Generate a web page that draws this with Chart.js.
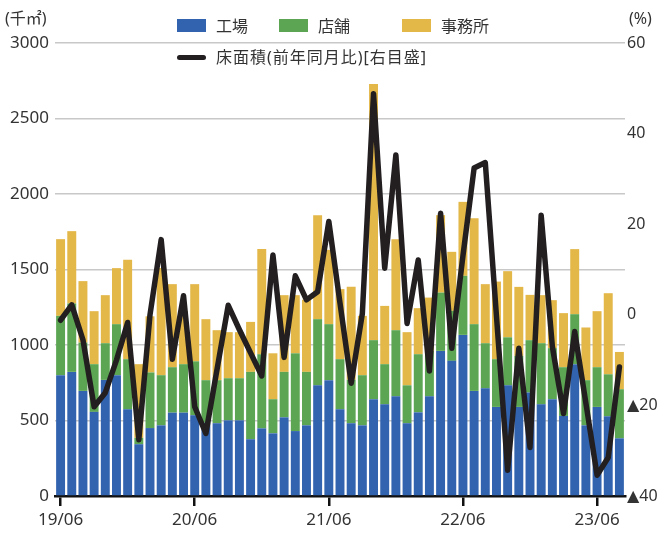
<!DOCTYPE html>
<html><head><meta charset="utf-8">
<script src="https://cdn.jsdelivr.net/npm/chart.js@4.4.1/dist/chart.umd.min.js"></script>
<style>
html,body{margin:0;padding:0;background:#fff;}
#wrap{position:relative;width:662px;height:533px;overflow:hidden;}
canvas{position:absolute;left:0;top:0;}
.t{position:absolute;font-family:"Noto Sans","Noto Sans CJK JP",sans-serif;color:#333;font-size:16px;line-height:16px;white-space:nowrap;}
.sw{position:absolute;}
</style></head>
<body><div id="wrap"><canvas id="c" width="662" height="533"></canvas></div>
<script>
// categories (month labels 19/06 ... 23/08)
const months = ['19/06','19/07','19/08','19/09','19/10','19/11','19/12','20/01','20/02','20/03','20/04','20/05',
'20/06','20/07','20/08','20/09','20/10','20/11','20/12','21/01','21/02','21/03','21/04','21/05',
'21/06','21/07','21/08','21/09','21/10','21/11','21/12','22/01','22/02','22/03','22/04','22/05',
'22/06','22/07','22/08','22/09','22/10','22/11','22/12','23/01','23/02','23/03','23/04','23/05',
'23/06','23/07','23/08'];
const seriesNames = ['工場','店舗','事務所'];
const lineName = '床面積(前年同月比)[右目盛]';
// 千㎡
const factory = [800,822,696,557,769,800,574,343,450,468,552,552,535,485,482,501,501,376,448,415,521,430,468,733,767,574,482,468,641,607,660,482,554,660,961,895,1067,696,713,590,733,590,685,607,641,530,873,468,590,528,382];
const store   = [393,453,320,316,243,338,332,42,368,332,301,321,357,282,285,279,279,446,491,226,301,515,354,438,371,332,288,332,391,266,438,251,385,301,386,331,391,442,299,316,318,338,347,405,338,323,331,299,263,278,325];
const office  = [508,479,407,351,318,371,658,488,372,710,550,352,511,404,331,305,305,331,696,304,508,385,478,689,492,464,615,393,1696,386,603,352,305,353,513,391,490,702,391,514,438,457,300,318,318,358,431,349,371,537,247];
// %
const yoy = [-1.2,2.2,-5.5,-20.3,-17.2,-10,-1.7,-27.6,0,16.6,-9.8,4.2,-20.3,-26.2,-12,2.1,-3.3,-8.4,-13.5,13.2,-9.4,8.6,3.3,5.1,20.6,2.6,-15.1,0.3,48.8,10.3,35.3,-1.9,12.1,-12.4,22.4,-7.4,13,32.4,33.6,-0.3,-34.3,-7.4,-29.3,22,-7,-21.8,-3.7,-19.5,-35.4,-31.5,-11.5];
// tick labels
const xTickLabels = ['19/06','20/06','21/06','22/06','23/06'];
const leftTickValues = [0,500,1000,1500,2000,2500,3000];
const leftTickLabels = ['0','500','1000','1500','2000','2500','3000'];
const rightTickValues = [-40,-20,0,20,40,60];
const rightTickLabels = ['▲40','▲20','0','20','40','60'];

const colors = ['#3263AF','#5CA653','#E3B748'];
const lineColor = '#231F20';
const FONT = {family:'"Noto Sans","Noto Sans CJK JP",sans-serif', size:17};
const FONT_R = {family:'"Noto Sans","DejaVu Sans","Noto Sans CJK JP",sans-serif', size:16};

const wrap = document.getElementById('wrap');
function addText(txt, left, top, extra){
  const d=document.createElement('div'); d.className='t'; d.textContent=txt;
  d.style.left=left+'px'; d.style.top=top+'px'; if(extra) Object.assign(d.style, extra); wrap.appendChild(d); return d;
}
function addSw(left, top, w, h, color, r){
  const d=document.createElement('div'); d.className='sw';
  Object.assign(d.style,{left:left+'px',top:top+'px',width:w+'px',height:h+'px',background:color,borderRadius:(r||0)+'px'});
  wrap.appendChild(d);
}
// axis unit titles
addText('(千㎡)', 5, 10);
addText('(%)', 629, 10);
// legend
const legX = [177, 279, 402];
seriesNames.forEach((n,i)=>{ addSw(legX[i], 19, 29, 13, colors[i]); addText(n, legX[i]+39, 18); });
addSw(177, 55, 29, 5, lineColor, 3);
addText(lineName, 216, 49, {letterSpacing:'1px'});

const ctx = document.getElementById('c').getContext('2d');
new Chart(ctx, {
  data: {
    labels: months,
    datasets: [
      {type:'line', label: lineName, data: yoy, yAxisID:'y1', borderColor: lineColor, borderWidth:5.5,
       pointRadius:0, tension:0, borderJoinStyle:'round', borderCapStyle:'round', order:0},
      {type:'bar', label: seriesNames[0], data: factory, backgroundColor: colors[0], yAxisID:'y', order:1, stack:'s'},
      {type:'bar', label: seriesNames[1], data: store, backgroundColor: colors[1], yAxisID:'y', order:1, stack:'s'},
      {type:'bar', label: seriesNames[2], data: office, backgroundColor: colors[2], yAxisID:'y', order:1, stack:'s'}
    ]
  },
  options: {
    responsive:false, animation:false,
    datasets:{bar:{barPercentage:0.8, categoryPercentage:1}},
    layout:{padding:{top:43,left:0,right:0,bottom:0}},
    plugins:{legend:{display:false}, tooltip:{enabled:false}},
    scales:{
      x:{ stacked:true, offset:true,
        grid:{display:true, drawOnChartArea:false, drawTicks:true, offset:false, tickLength:10,
          color:(c)=> xTickLabels.includes(months[c.index]) ? '#111' : 'rgba(0,0,0,0)', lineWidth:2.5},
        border:{display:true, color:'#111', width:2.5},
        ticks:{autoSkip:false, maxRotation:0, minRotation:0, padding:4, color:'#333', font:FONT,
          callback:(v,i)=> xTickLabels.includes(months[i]) ? months[i] : ''},
        afterFit:(s)=>{ s.height = 37; }
      },
      y:{ stacked:true, position:'left', min:0, max:3000,
        afterBuildTicks:(s)=>{ s.ticks = leftTickValues.map(v=>({value:v})); },
        ticks:{padding:6, color:'#333', font:FONT,
          callback:(v)=> leftTickLabels[leftTickValues.indexOf(v)]},
        grid:{color:(c)=> c.tick && c.tick.value===0 ? 'rgba(0,0,0,0)' : '#C8C8C8', lineWidth:1.5, drawTicks:false},
        border:{display:false},
        afterFit:(s)=>{ s.width = 55; }
      },
      y1:{ position:'right', min:-40, max:60,
        afterBuildTicks:(s)=>{ s.ticks = rightTickValues.map(v=>({value:v})); },
        ticks:{padding:2, color:'#333', font:FONT_R,
          callback:(v)=> rightTickLabels[rightTickValues.indexOf(v)]},
        grid:{display:false, drawTicks:false},
        border:{display:false},
        afterFit:(s)=>{ s.width = 37; }
      }
    }
  }
});
</script>
</body></html>
